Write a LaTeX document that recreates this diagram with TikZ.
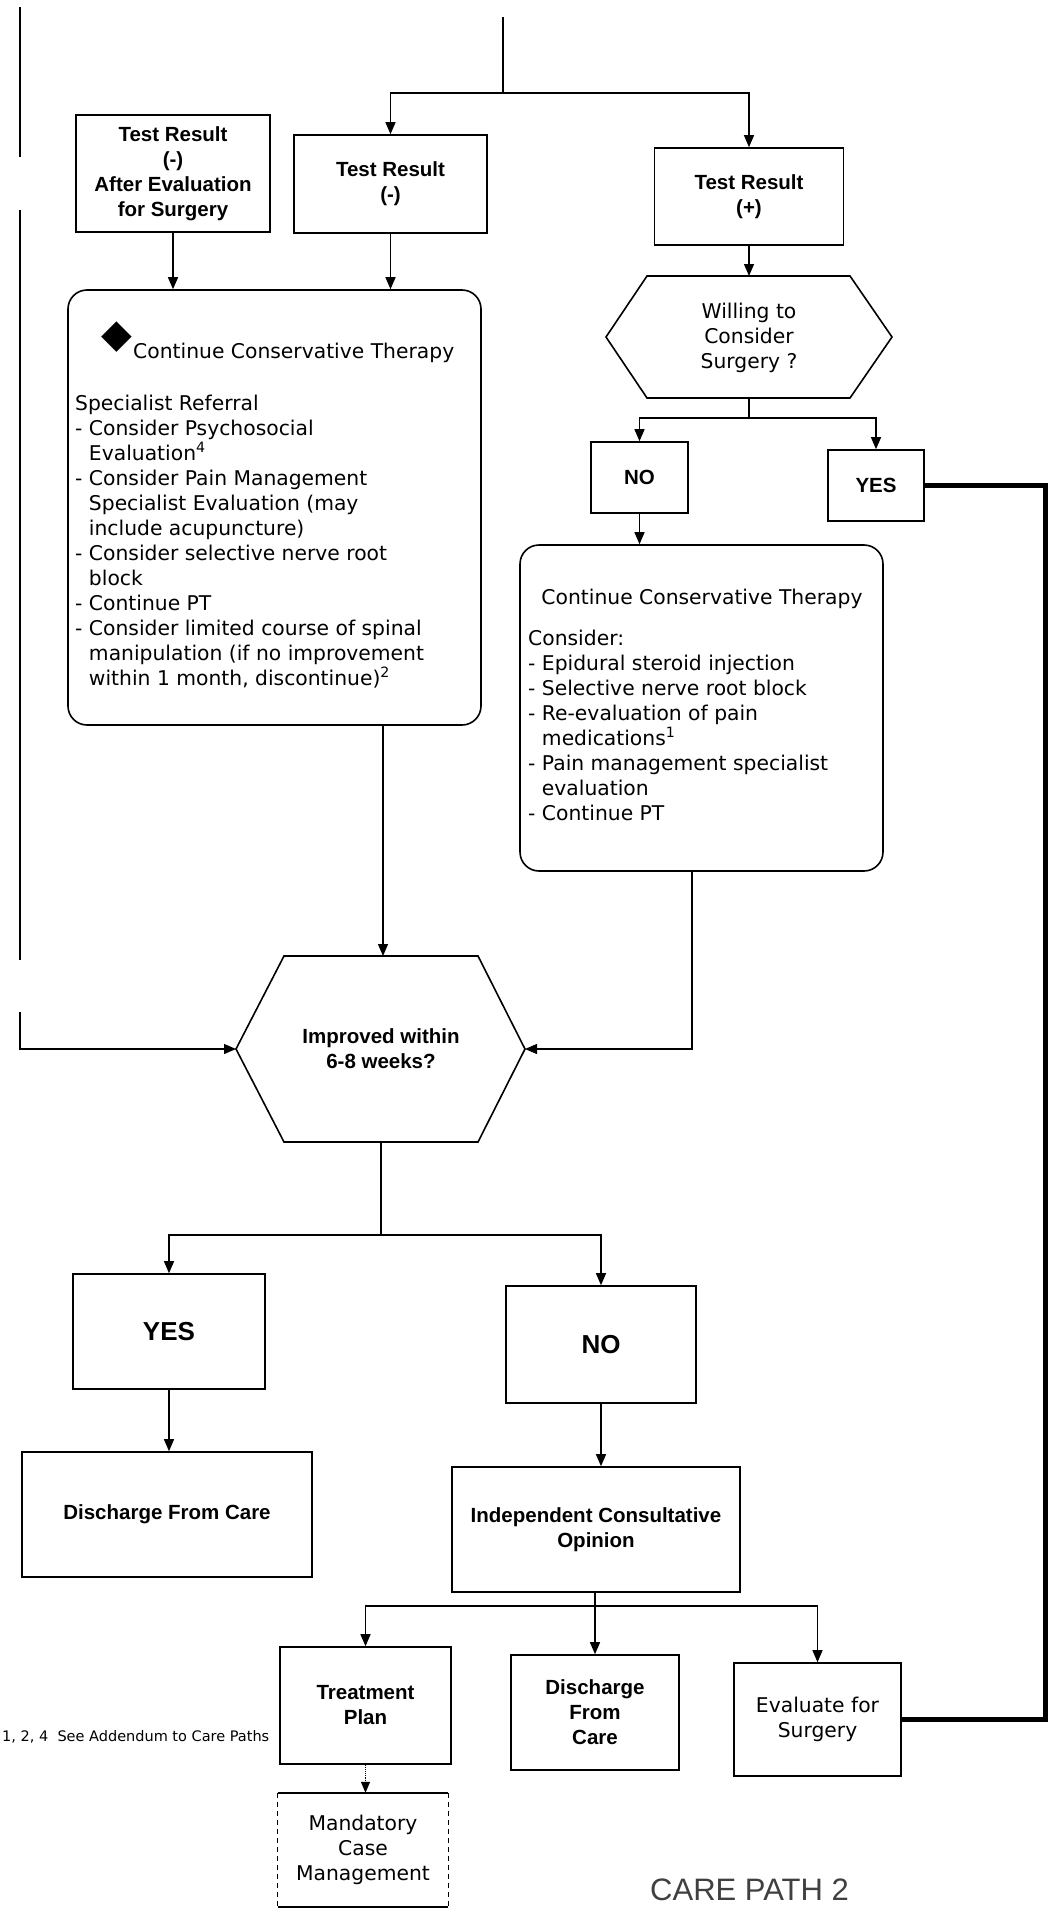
\documentclass[tikz,border=0pt]{standalone}
\usepackage{fontspec}
\setmainfont{Liberation Sans}
\newfontfamily\dvfont{DejaVu Sans}
\usetikzlibrary{arrows.meta}
\begin{document}
\begin{tikzpicture}[x=1pt,y=-1pt,
  boxfont/.style={font=\bfseries\fontsize{20.5}{25}\selectfont},
  dvtext/.style={font=\dvfont\fontsize{20.3}{25}\selectfont},
  flowbox/.style={draw, line width=1.6pt, inner sep=0pt, align=center, boxfont},
  dvbox/.style={draw, line width=1.6pt, inner sep=0pt, align=center, dvtext},
  roundbox/.style={draw, line width=1.6pt, rounded corners=19pt, inner sep=0pt},
  hexline/.style={line width=1.6pt},
  conn/.style={line width=1.3pt, -{Triangle[length=12pt,width=10pt]}},
  plainline/.style={line width=1.3pt},
  heavyline/.style={line width=5pt, line join=miter},
  plaintext/.style={inner sep=0pt}
]
\useasboundingbox (0,0) rectangle (1058,1913);

% ---------- top row ----------
\node[flowbox, minimum width=194pt, minimum height=117pt] (tra) at (173,173.5) {Test Result\\(-)\\After Evaluation\\for Surgery};
\node[flowbox, minimum width=193pt, minimum height=98pt] (trb) at (390.5,184) {Test Result\\(-)};
\node[flowbox, minimum width=189pt, minimum height=97pt] (trc) at (749,196.5) {Test Result\\(+)};

% ---------- left rounded box ----------
\node[roundbox, minimum width=413pt, minimum height=435pt] (ccl) at (274.5,507.5) {};
\node[plaintext, font=\dvfont\fontsize{40}{40}\selectfont] (ccld) at (116.5,337.5) {◆};
\node[plaintext, anchor=base west, dvtext] (cclt) at (133,358) {Continue Conservative Therapy};
\node[plaintext, anchor=north west, dvtext, align=left] (cclb) at (75,394)
{\rule{0pt}{16pt}Specialist Referral\\
- Consider Psychosocial\\
\hphantom{- }Evaluation\textsuperscript{4}\\
- Consider Pain Management\\
\hphantom{- }Specialist Evaluation (may\\
\hphantom{- }include acupuncture)\\
- Consider selective nerve root\\
\hphantom{- }block\\
- Continue PT\\
- Consider limited course of spinal\\
\hphantom{- }manipulation (if no improvement\\
\hphantom{- }within 1 month, discontinue)\textsuperscript{2}};

% ---------- willing hexagon ----------
\coordinate (wl) at (606,337);
\coordinate (wtl) at (647,276);
\coordinate (wtop) at (749,276);
\coordinate (wtr) at (850,276);
\coordinate (wr) at (892,337);
\coordinate (wbrc) at (850,398);
\coordinate (wbot) at (749,398);
\coordinate (wblc) at (647,398);
\draw[hexline] (wl) -- (wtl) -- (wtr) -- (wr) -- (wbrc) -- (wblc) -- cycle;
\node[plaintext, dvtext, align=center] (wq) at (749,338) {Willing to\\Consider\\Surgery ?};

\node[flowbox, minimum width=97pt, minimum height=71pt] (no1) at (639.5,477.5) {NO};
\node[flowbox, minimum width=96pt, minimum height=71pt] (yes1) at (876,485.5) {YES};

% ---------- right rounded box ----------
\node[roundbox, minimum width=363pt, minimum height=326pt] (ccr) at (701.5,708) {};
\node[plaintext, anchor=base, dvtext] (ccrt) at (702,604) {Continue Conservative Therapy};
\node[plaintext, anchor=north west, dvtext, align=left] (ccrb) at (528,629)
{\rule{0pt}{16pt}Consider:\\
- Epidural steroid injection\\
- Selective nerve root block\\
- Re-evaluation of pain\\
\hphantom{- }medications\textsuperscript{1}\\
- Pain management specialist\\
\hphantom{- }evaluation\\
- Continue PT};

% ---------- improved hexagon ----------
\coordinate (il) at (236,1049);
\coordinate (itl) at (284,956);
\coordinate (itop) at (383,956);
\coordinate (itr) at (478,956);
\coordinate (ir) at (525,1049);
\coordinate (ibrc) at (478,1142);
\coordinate (ibot) at (381,1142);
\coordinate (iblc) at (284,1142);
\draw[hexline] (il) -- (itl) -- (itr) -- (ir) -- (ibrc) -- (iblc) -- cycle;
\node[plaintext, boxfont, align=center] (iq) at (381,1049) {Improved within\\6-8 weeks?};

% ---------- lower part ----------
\node[flowbox, minimum width=192pt, minimum height=115pt, font=\bfseries\fontsize{26}{30}\selectfont] (yes2) at (169,1331.5) {YES};
\node[flowbox, minimum width=190pt, minimum height=117pt, font=\bfseries\fontsize{26}{30}\selectfont] (no2) at (601,1344.5) {NO};
\node[flowbox, minimum width=290pt, minimum height=125pt] (dis1) at (167,1514.5) {Discharge From Care};
\node[flowbox, minimum width=288pt, minimum height=125pt] (ico) at (596,1529.5) {Independent Consultative\\Opinion};
\node[flowbox, minimum width=171pt, minimum height=117pt] (tp) at (365.5,1705.5) {Treatment\\Plan};
\node[flowbox, minimum width=168pt, minimum height=115pt] (d2) at (595,1712.5) {Discharge\\From\\Care};
\node[dvbox, minimum width=167pt, minimum height=113pt] (ev) at (817.5,1719.5) {Evaluate for\\Surgery};
\node[plaintext, dvtext, align=center, minimum width=170pt, minimum height=114pt] (mcm) at (363,1850) {Mandatory\\Case\\Management};
\draw[line width=1.6pt] (mcm.north west) -- (mcm.north east);
\draw[line width=1.6pt] (mcm.south west) -- (mcm.south east);
\draw[line width=1.1pt, dash pattern=on 5pt off 4pt] (mcm.north west) -- (mcm.south west);
\draw[line width=1.1pt, dash pattern=on 5pt off 4pt] (mcm.north east) -- (mcm.south east);

% ---------- texts ----------
\node[plaintext, anchor=base west, font=\dvfont\fontsize{14.5}{16}\selectfont] (fn) at (2,1741) {1, 2, 4\ \ See Addendum to Care Paths};
\node[plaintext, anchor=base west, font=\fontsize{31}{31}\selectfont, text=black!75] (cp) at (650,1900) {CARE PATH 2};

% ---------- connectors ----------
\coordinate (la) at (20,7);
\coordinate (lb) at (20,157);
\coordinate (lc) at (20,210);
\coordinate (ld) at (20,960);
\coordinate (le) at (20,1012);
\draw[plainline] (la) -- (lb);
\draw[plainline] (lc) -- (ld);
\draw[conn] (le) |- (il);

\coordinate (topin) at (503,17);
\coordinate (br1) at (503,93);
\draw[plainline] (topin) -- (br1);
\draw[conn] (br1) -| (trb.north);
\draw[conn] (br1) -| (trc.north);

\draw[conn] (tra.south) -- (tra.south |- ccl.north);
\draw[conn] (trb.south) -- (trb.south |- ccl.north);
\draw[conn] (trc.south) -- (wtop);

\coordinate (wbr) at (749,418);
\draw[plainline] (wbot) -- (wbr);
\draw[conn] (wbr) -| (no1.north);
\draw[conn] (wbr) -| (yes1.north);
\draw[conn] (no1.south) -- (no1.south |- ccr.north);

\draw[conn] (itop |- ccl.south) -- (itop);
\coordinate (rout) at (692,871);
\draw[conn] (rout) |- (ir);

\coordinate (ibr) at (381,1235);
\draw[plainline] (ibot) -- (ibr);
\draw[conn] (ibr) -| (yes2.north);
\draw[conn] (ibr) -| (no2.north);
\draw[conn] (yes2.south) -- (yes2.south |- dis1.north);
\draw[conn] (no2.south) -- (no2.south |- ico.north);

\coordinate (icobr) at (595,1606);
\draw[plainline] (ico.south -| icobr) -- (icobr);
\draw[conn] (icobr) -| (tp.north);
\draw[conn] (icobr) -- (d2.north);
\draw[conn] (icobr) -| (ev.north);
\draw[line width=1.1pt, densely dotted, -{Triangle[length=11pt,width=9pt]}] (tp.south) -- (tp.south |- mcm.north);

\coordinate (rc1) at (1045,485.5);
\coordinate (rc2) at (1045,1719.5);
\draw[heavyline] (yes1.east) -- (rc1) -- (rc2) -- (ev.east);
\end{tikzpicture}
\end{document}
